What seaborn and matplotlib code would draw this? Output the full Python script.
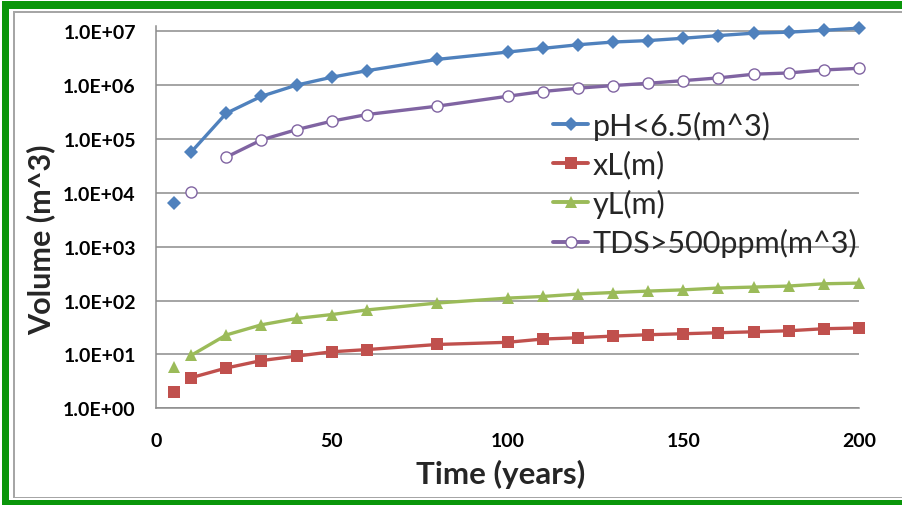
import numpy as np
import pandas as pd
import seaborn as sns
import matplotlib
matplotlib.use("Agg")
import matplotlib.pyplot as plt
from matplotlib.lines import Line2D
from matplotlib.patches import Rectangle
from matplotlib.ticker import FuncFormatter, NullLocator

# ---- data ----
time = [5, 10, 20, 30, 40, 50, 60, 80, 100, 110, 120, 130, 140, 150, 160, 170, 180, 190, 200]
ph_vol = [6.5e3, 5.7e4, 3.0e5, 6.2e5, 1.0e6, 1.4e6, 1.85e6, 3.0e6, 4.1e6, 4.8e6, 5.6e6,
          6.3e6, 6.7e6, 7.4e6, 8.3e6, 9.2e6, 9.6e6, 1.04e7, 1.14e7]
xl_len = [2.0, 3.7, 5.6, 7.7, 9.3, 11.2, 12.3, 15.3, 16.8, 19.3, 20.4, 21.9, 23.2, 24.2,
          25.3, 26.3, 27.5, 30.0, 31.0]
yl_len = [5.8, 9.6, 23, 35.5, 46.5, 55, 67, 90, 111, 119, 132, 141, 150, 158, 171, 178,
          186, 205, 211]
tds_vol = [np.nan, 1.03e4, 4.6e4, 9.6e4, 1.49e5, 2.14e5, 2.84e5, 4.06e5, 6.2e5, 7.6e5,
           8.75e5, 9.8e5, 1.08e6, 1.21e6, 1.36e6, 1.59e6, 1.68e6, 1.91e6, 2.05e6]
labels = ["pH<6.5(m^3)", "xL(m)", "yL(m)", "TDS>500ppm(m^3)"]
x_ticks = [0, 50, 100, 150, 200]
y_ticks = [1e0, 1e1, 1e2, 1e3, 1e4, 1e5, 1e6, 1e7]

# ---- styles ----
sns.set_theme(style="white")
plt.rcParams["font.family"] = ["Lato", "DejaVu Sans"]

W, H = 902, 506
fig = plt.figure(figsize=(W / 100, H / 100), dpi=100)
ax = fig.add_axes([156 / W, (H - 409.3) / H, 703 / W, (409.3 - 27) / H])

series = [ph_vol, xl_len, yl_len, tds_vol]
colors = ["#4F81BD", "#C0504D", "#9BBB59", "#8064A2"]
markers = ["D", "s", "^", "o"]
msizes = [7.4, 8.6, 8.8, 8.0]
faces = [None, None, None, "white"]

t = np.array(time, float)
handles = []
for vals, col, mk, ms, fc, lab in zip(series, colors, markers, msizes, faces, labels):
    v = np.array(vals, float)
    first = int(np.flatnonzero(~np.isnan(v))[0])
    mfc = col if fc is None else fc
    mew = 1.0 if fc is not None else 0.0
    # isolated first point
    sns.lineplot(x=t[first:first + 1], y=v[first:first + 1], ax=ax, color=col,
                 linestyle="", marker=mk, markersize=ms, markerfacecolor=mfc,
                 markeredgecolor=col, markeredgewidth=mew, clip_on=False, legend=False)
    # connected run
    sns.lineplot(x=t[first + 1:], y=v[first + 1:], ax=ax, color=col, linewidth=2.4,
                 marker=mk, markersize=ms, markerfacecolor=mfc, markeredgecolor=col,
                 markeredgewidth=mew, clip_on=False, legend=False, sort=True)
    handles.append(Line2D([], [], color=col, linewidth=2.8, marker=mk, markersize=ms,
                          markerfacecolor=mfc, markeredgecolor=col, markeredgewidth=mew))

ax.set_yscale("log")
ax.set_xlim(0, 200)
ax.set_ylim(1, 1.25e7)
ax.set_xticks(x_ticks)
ax.set_yticks(y_ticks)
ax.yaxis.set_minor_locator(NullLocator())
ax.yaxis.set_major_formatter(FuncFormatter(lambda v, p: f"{v:.1E}"))
ax.xaxis.set_major_formatter(FuncFormatter(lambda v, p: f"{int(v)}"))

grey = "#8c8c8c"
ax.yaxis.grid(True, color=grey, linewidth=1.1)
ax.xaxis.grid(False)
for s in ["top", "right"]:
    ax.spines[s].set_visible(False)
for s in ["left", "bottom"]:
    ax.spines[s].set_color(grey)
    ax.spines[s].set_linewidth(1.1)
ax.tick_params(axis="y", which="major", direction="out", length=4.5, width=1.0,
               color=grey, pad=10, labelsize=14, labelcolor="black")
ax.tick_params(axis="x", which="major", direction="out", length=5, width=1.0,
               color=grey, pad=12, labelsize=14, labelcolor="black")
for lbl in ax.get_xticklabels() + ax.get_yticklabels():
    lbl.set_fontweight("bold")

ax.set_xlabel("Time (years)", fontsize=22.5, fontweight="bold", va="center")
ax.set_ylabel("Volume (m^3)", fontsize=22, fontweight="bold", va="center")
ax.xaxis.set_label_coords((500.5 - 156) / 703, (409.3 - 474) / 382.3)
ax.yaxis.set_label_coords((41 - 156) / 703, (409.3 - 240) / 382.3)

leg = ax.legend(handles, labels, loc="upper left",
                bbox_to_anchor=(553 / W, (H - 112) / H), bbox_transform=fig.transFigure,
                frameon=False, fontsize=22, handlelength=1.15, handletextpad=0.15,
                labelspacing=0.33, borderpad=0, borderaxespad=0)

# ---- frame decoration ----
green = "#0a960a"
def px_rect(x0, y0, x1, y1, color):
    fig.add_artist(Rectangle((x0 / W, (H - y1) / H), (x1 - x0) / W, (y1 - y0) / H,
                             transform=fig.transFigure, facecolor=color,
                             edgecolor="none", zorder=10))
px_rect(2, 2, W, 9.5, green)      # top
px_rect(2, 2, 9, H, green)        # left
px_rect(2, 500.5, W, H, green)    # bottom
px_rect(13, 12, W, 13.5, "#a6a6a6")   # inner top
px_rect(13, 12, 14.5, 499, "#a6a6a6")  # inner left
px_rect(13, 497.5, W, 499, "#a6a6a6")  # inner bottom

fig.savefig("out.png", dpi=100)
